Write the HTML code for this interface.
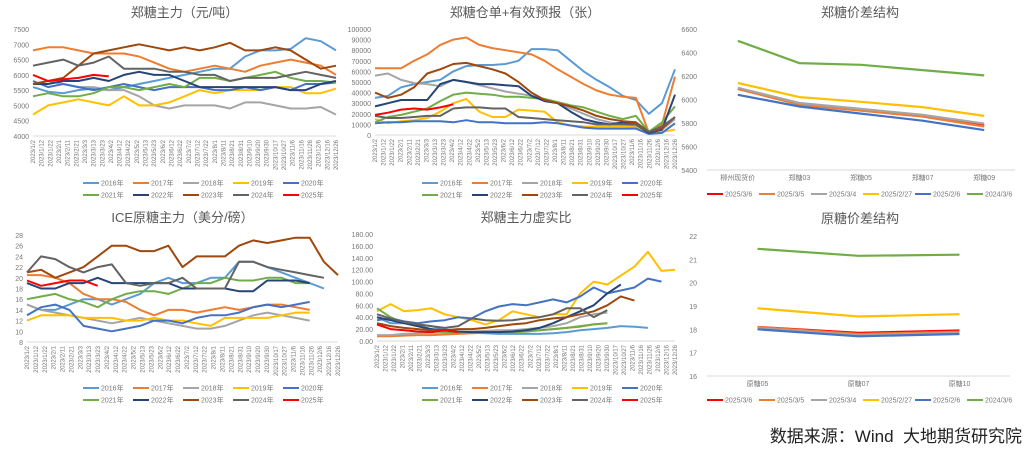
<!DOCTYPE html>
<html><head><meta charset="utf-8"><style>
body{margin:0;background:#fff;}
svg{display:block;font-family:"Liberation Sans","Noto Sans CJK SC",sans-serif;}
</style></head><body>
<svg id="root" width="1029" height="450" viewBox="0 0 1029 450">
<text x="1022" y="442" font-size="17" fill="#222" text-anchor="end">数据来源：Wind&#160;&#160;大地期货研究院</text>
</svg>
<script>
const years=["2016年","2017年","2018年","2019年","2020年","2021年","2022年","2023年","2024年","2025年"];
const yearColors=["#5b9bd5","#ed7d31","#a5a5a5","#ffc000","#4472c4","#70ad47","#264478","#9e480e","#636363","#ff0000"];
const dateTicks=["2023/1/2","2023/1/12","2023/1/22","2023/2/1","2023/2/11","2023/2/21","2023/3/3","2023/3/13","2023/3/23","2023/4/2","2023/4/12","2023/4/22","2023/5/2","2023/5/13","2023/5/23","2023/6/2","2023/6/12","2023/6/22","2023/7/2","2023/7/12","2023/7/22","2023/8/1","2023/8/11","2023/8/21","2023/8/31","2023/9/10","2023/9/20","2023/9/30","2023/10/17","2023/10/27","2023/11/6","2023/11/16","2023/11/26","2023/12/6","2023/12/16","2023/12/26"];

const zzPrice=[
[5600,5450,5400,5500,5550,5500,5600,5700,5800,5900,6000,6100,6200,6200,6600,6800,6800,6850,7200,7100,6800],
[6800,6900,6900,6800,6700,6700,6700,6600,6400,6200,6100,6200,6300,6200,6100,6300,6400,6500,6400,6300,6000],
[5700,5800,5700,5600,5600,5500,5500,5300,5000,4900,5000,5000,5000,4900,5100,5100,5000,4900,4900,4950,4700],
[4700,5000,5100,5200,5100,5000,5300,5000,5000,5100,5300,5500,5400,5500,5500,5500,5600,5600,5400,5400,5550],
[5800,5600,5700,5600,5500,5600,5700,5600,5500,5600,5600,5600,5500,5500,5600,5500,5600,5500,5700,5700,5750],
[5300,5400,5300,5300,5400,5600,5600,5500,5600,5700,5600,5900,5900,5800,5900,6000,6100,5900,5800,5800,5750],
[5700,5700,5800,5800,5900,5800,6000,6100,6000,6000,5800,5600,5600,5600,5600,5600,5600,5500,5500,5700,5800],
[5700,5800,5900,6300,6700,6800,6900,7000,6900,6800,6900,6800,6900,7050,6800,6800,6900,6800,6500,6200,6300],
[6300,6400,6500,6300,6400,6600,6200,6200,6200,6100,6100,6000,6000,5800,5900,5900,5900,6000,6100,6000,5900],
[6000,5800,5850,5900,6000,5950]];
const zzPriceTicks=[4000,4500,5000,5500,6000,6500,7000,7500];

const warrants=[
[35000,37000,45000,48000,50000,52000,60000,65000,66000,66000,67000,70000,81000,81000,80000,70000,60000,52000,45000,37000,33000,20000,30000,62000],
[63000,63000,63000,70000,76000,85000,90000,92000,85000,82000,80000,78000,76000,70000,62000,55000,48000,42000,38000,36000,35000,2000,10000,55000],
[56000,58000,52000,49000,48000,46000,52000,50000,47000,44000,41000,39000,37000,34000,30000,25000,20000,15000,12000,10000,8000,2000,5000,15000],
[15000,11000,13000,14000,16000,22000,30000,34000,22000,17000,17000,24000,23000,22000,12000,9000,8000,8000,8000,8000,7000,2000,3000,5000],
[11000,12000,12000,13000,13000,13000,12000,14000,12000,12000,11000,11000,11000,12000,11000,9000,7000,6000,6000,6000,6000,1000,2000,11000],
[12000,17000,19000,22000,25000,32000,38000,40000,39000,38000,36000,36000,35000,34000,31000,28000,26000,22000,18000,15000,18000,3000,12000,27000],
[27000,30000,33000,33000,33000,48000,52000,50000,48000,48000,47000,46000,37000,32000,30000,22000,15000,12000,10000,12000,10000,2000,5000,38000],
[40000,35000,38000,45000,58000,62000,67000,68000,65000,62000,58000,50000,40000,33000,30000,27000,23000,18000,15000,13000,12000,3000,6000,17000],
[18000,16000,16000,17000,18000,18000,25000,26000,26000,25000,25000,17000,16000,15000,14000,13000,12000,10000,10000,10000,10000,3000,8000,17000],
[19000,21000,24000,25000,24000,26000,29000]];
const warrantTicks=[0,10000,20000,30000,40000,50000,60000,70000,80000,90000,100000];

const icePrice=[
[15,14,14,15,16,16,15,16,17,19,20,19,19,20,20,23,23,22,21,20,19,18],
[20.5,20.5,20,19,17,16,16,15.5,14,13,14,14,13.5,14,14.5,14,14.5,15,15,14.5,14],
[15,14,13.5,13,12.5,12,11.5,12,12.5,12,11.5,11,10.5,10.5,11,12,13,13.5,13,12.5,12],
[12,13,13,13,12.5,12.5,12.5,12,12,12.5,12,12,11.5,11,12.5,12.5,12.5,12.5,13,13.5,13.5],
[13,14.5,15,14,11,10.5,10,10.5,11,12,12,11.5,12.5,13,13,13.5,14.5,15,14.5,15,15.5],
[16,16.5,17,16,15.5,14.5,16,17,17.5,17.5,17,18,19,19,20,19.5,19.5,20,20,19,19],
[19,18,18,19,19,20,19,19,19,19,19,18,18,18,18,17.5,17.5,19.5,19.5,19.5,19],
[21,21.5,20,21,22,24,26,26,25,25,26,22,24,24,24,26,27,26.5,27,27.5,27.5,23,20.5],
[21,24,23.5,22,21,22,22.5,19,18.5,19,19,20,18,18,18,23,23,22,21.5,21,20.5,20],
[19.5,18.5,19,19.5,19.5,18.5]];
const iceTicks=[8,10,12,14,16,18,20,22,24,26,28];

const ratio=[
[40,30,30,28,25,20,15,14,13,12,12,12,12,13,15,18,20,22,25,24,22],
[8,8,9,10,10,11,12,13,14,15,15,16,18,20,22,24,28,30],
[10,10,12,13,14,14,15,16,17,18,18,20,22,25,30,40,45,48],
[50,62,50,52,55,45,40,35,28,35,50,45,40,45,45,80,100,95,110,125,150,118,120],
[35,38,33,30,33,35,40,38,50,58,62,60,65,70,65,75,90,80,85,90,105,100],
[55,40,30,25,20,15,14,14,14,15,15,16,18,20,22,25,28,30],
[40,35,30,25,20,18,16,15,15,15,16,18,22,30,40,50,60,80,95],
[30,25,22,20,18,18,20,20,22,25,28,30,35,38,40,45,50,60,75,68],
[45,38,32,28,25,22,25,38,35,34,35,38,40,45,55,55,40,52],
[28,20,18,16,15,18,15]];
const ratioTicks=[0,20,40,60,80,100,120,140,160,180];

const curveDates=["2025/3/6","2025/3/5","2025/3/4","2025/2/27","2025/2/6","2024/3/6"];
const curveColors=["#ff0000","#ed7d31","#a5a5a5","#ffc000","#4472c4","#70ad47"];
const zzCats=["柳州现货价","郑糖03","郑糖05","郑糖07","郑糖09"];
const zzCurve=[[6090,5960,5910,5860,5780],[6090,5955,5905,5855,5770],[6100,5970,5920,5870,5795],[6140,6020,5980,5935,5860],[6040,5940,5880,5820,5740],[6500,6310,6295,6250,6205]];
const zzCurveTicks=[5400,5600,5800,6000,6200,6400,6600];
const iceCats=["原糖05","原糖07","原糖10"];
const iceCurve=[[18.1,17.85,17.95],[18.1,17.8,17.9],[18.05,17.75,17.85],[18.9,18.55,18.65],[18.0,17.7,17.8],[21.45,21.15,21.2]];
const iceCurveTicks=[16,17,18,19,20,21,22];

const NS="http://www.w3.org/2000/svg";
const root=document.getElementById('root');
function mk(tag,attrs,parent){const e=document.createElementNS(NS,tag);for(const k in attrs)e.setAttribute(k,attrs[k]);parent.appendChild(e);return e;}
function txt(s,attrs,parent){const e=mk('text',attrs,parent);e.textContent=s;return e;}

function seasonal(c){
  const g=mk('g',{},root);
  
  
  const t=txt(c.title,{x:(c.x0+c.x1)/2,y:c.ty,'font-size':13,fill:'#595959','text-anchor':'middle'},g);
  
  
  const lo=c.ticks[0],hi=c.ticks[c.ticks.length-1];
  const Y=v=>c.yb-(v-lo)/(hi-lo)*(c.yb-c.yt);
  const N=c.npts;
  const X=i=>c.x0+i/(N-1)*(c.x1-c.x0);
  c.ticks.forEach(v=>{const l=txt(c.fmt(v),{x:c.x0-4,y:Y(v)+3,'font-size':7,fill:'#777','text-anchor':'end'},g);
    
    });
  mk('line',{x1:c.x0,x2:c.x1,y1:c.yb,y2:c.yb,stroke:'#d9d9d9'},g);
  const n=dateTicks.length;
  dateTicks.forEach((d,i)=>{const xx=c.x0+i/(n-1)*(c.x1-c.x0)+2;
    const l=txt(d,{x:0,y:0,'font-size':6,fill:'#777','text-anchor':'end',transform:`translate(${xx},${c.yb+4}) rotate(-90)`},g);
    
    });
  c.data.forEach((s,si)=>{
    const p=mk('polyline',{points:s.map((v,i)=>X(i).toFixed(1)+','+Y(v).toFixed(1)).join(' '),fill:'none',stroke:yearColors[si],'stroke-width':2,'stroke-linejoin':'round'},g);
    
    
  });
  years.forEach((yname,i)=>{
    const row=i<5?0:1, col=i%5;
    const lx=c.lx+col*50, ly=c.ly+row*12;
    const lg=mk('g',{},g);
    
    
    mk('line',{x1:lx,x2:lx+16,y1:ly,y2:ly,stroke:yearColors[i],'stroke-width':2},lg);
    txt(yname,{x:lx+18,y:ly+2.5,'font-size':7,fill:'#777'},lg);
  });
}
function curve(c){
  const g=mk('g',{},root);
  
  
  const t=txt(c.title,{x:c.tx,y:c.ty,'font-size':13,fill:'#595959','text-anchor':'middle'},g);
  
  
  const lo=c.ticks[0],hi=c.ticks[c.ticks.length-1];
  const Y=v=>c.yb-(v-lo)/(hi-lo)*(c.yb-c.yt);
  const bw=(c.x1-c.x0)/c.cats.length;
  const X=i=>c.x0+bw*(i+0.5);
  c.ticks.forEach(v=>{const l=txt(String(v),{x:c.x0-10,y:Y(v)+3,'font-size':7,fill:'#777','text-anchor':'end'},g);
    
    });
  mk('line',{x1:c.x0,x2:c.x1,y1:c.yb,y2:c.yb,stroke:'#d9d9d9'},g);
  c.cats.forEach((s,i)=>{const l=txt(s,{x:X(i),y:c.yb+10,'font-size':7,fill:'#777','text-anchor':'middle'},g);
    
    });
  c.data.forEach((s,si)=>{
    const p=mk('polyline',{points:s.map((v,i)=>X(i).toFixed(1)+','+Y(v).toFixed(1)).join(' '),fill:'none',stroke:curveColors[si],'stroke-width':2.2},g);
    
    
  });
  curveDates.forEach((d,i)=>{
    const lx=c.lx+i*52, ly=c.ly;
    const lg=mk('g',{},g);
    
    
    mk('line',{x1:lx,x2:lx+16,y1:ly,y2:ly,stroke:curveColors[i],'stroke-width':2},lg);
    txt(d,{x:lx+18,y:ly+2.5,'font-size':7,fill:'#777'},lg);
  });
}
seasonal({name:'zz-price-chart',title:'郑糖主力（元/吨）',ty:17,x0:33,x1:336,yt:29,yb:136,ticks:zzPriceTicks,fmt:v=>String(v),npts:21,data:zzPrice,lx:83,ly:183});
seasonal({name:'warrant-chart',title:'郑糖仓单+有效预报（张）',ty:17,x0:375,x1:675,yt:29,yb:135,ticks:warrantTicks,fmt:v=>String(v),npts:24,data:warrants,lx:422,ly:183});
seasonal({name:'ice-price-chart',title:'ICE原糖主力（美分/磅）',ty:222,x0:27,x1:338,yt:235,yb:342,ticks:iceTicks,fmt:v=>String(v),npts:23,data:icePrice,lx:83,ly:388});
seasonal({name:'ratio-chart',title:'郑糖主力虚实比',ty:222,x0:377,x1:675,yt:234,yb:341,ticks:ratioTicks,fmt:v=>v.toFixed(2),npts:23,data:ratio,lx:422,ly:388});
curve({name:'zz-curve-chart',title:'郑糖价差结构',tx:860,ty:17,x0:707,x1:1015,yt:29,yb:170,ticks:zzCurveTicks,cats:zzCats,data:zzCurve,lx:707,ly:194});
curve({name:'ice-curve-chart',title:'原糖价差结构',tx:860,ty:223,x0:707,x1:1010,yt:236,yb:376,ticks:iceCurveTicks,cats:iceCats,data:iceCurve,lx:707,ly:400});
</script>
</body></html>
